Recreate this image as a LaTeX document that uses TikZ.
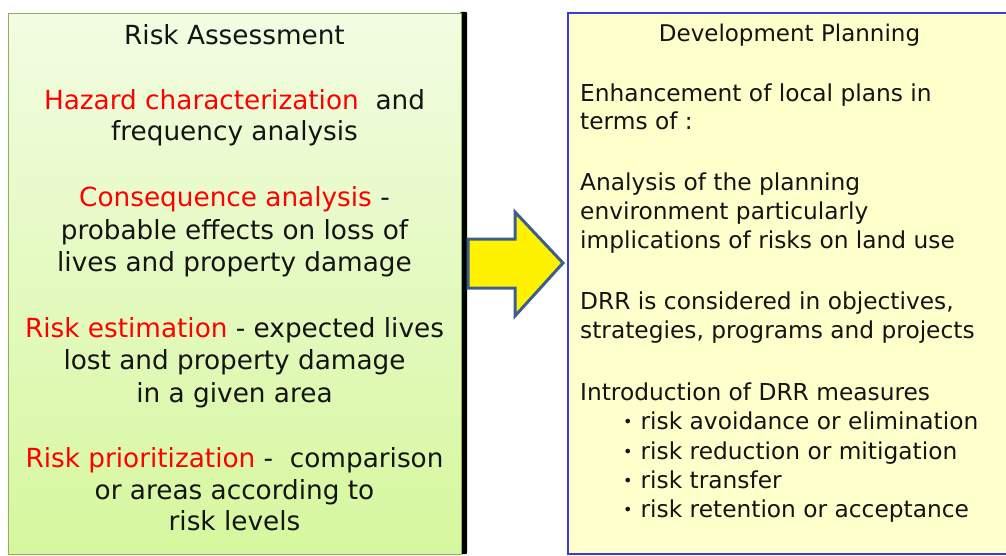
\documentclass[tikz,border=0pt]{standalone}
\usepackage{fontspec}
\setmainfont{DejaVu Sans}
\usetikzlibrary{positioning}
\definecolor{lefttop}{RGB}{242,252,226}
\definecolor{leftbot}{RGB}{214,247,158}
\definecolor{leftborder}{RGB}{141,178,85}
\definecolor{rightfill}{RGB}{255,255,204}
\definecolor{rightborder}{RGB}{60,60,210}
\definecolor{arrowborder}{RGB}{60,95,142}
\definecolor{redtext}{RGB}{255,0,0}
\definecolor{bodytext}{RGB}{20,20,20}
\newcommand{\smallbul}{\hspace*{43pt}\raisebox{1.5pt}{\fontsize{16}{16}\selectfont •}\hspace{8pt}}
\begin{document}
\begin{tikzpicture}[x=1pt,y=-1pt,
  ltext/.style={anchor=base,inner sep=0pt,text=bodytext,font=\fontsize{26.3}{32}\selectfont},
  rtext/.style={anchor=base west,inner sep=0pt,text=bodytext,font=\fontsize{23.3}{29}\selectfont},
  rtitle/.style={anchor=base,inner sep=0pt,text=bodytext,font=\fontsize{23}{28}\selectfont}]
\useasboundingbox (0,0) rectangle (1006,556);
% left box
\fill[black,rounded corners=1pt] (460,12) rectangle (467,554);
\shade[top color=lefttop,bottom color=leftbot,draw=leftborder,line width=1pt] (8,14) rectangle (461,554);
% right box
\fill[rightfill,draw=rightborder,line width=1.5pt] (568,13) rectangle (1012,554);
% block arrow
\draw[fill=yellow,draw=arrowborder,line width=3pt,line join=miter]
  (468,239) -- (515,239) -- (515,212) -- (563,263) -- (515,316) -- (515,288) -- (468,288) -- cycle;
% left text
\def\lx{234.5}
\node[ltext] (la) at (\lx,45) {Risk Assessment};
\node[ltext] (lb1) at (\lx,110) {\textcolor{redtext}{Hazard characterization}\ \ and};
\node[ltext] (lb2) at (\lx,141) {frequency analysis};
\node[ltext] (lc1) at (\lx,207) {\textcolor{redtext}{Consequence analysis} -};
\node[ltext] (lc2) at (\lx,239) {probable effects on loss of};
\node[ltext] (lc3) at (\lx,271) {lives and property damage};
\node[ltext] (ld1) at (\lx,337) {\textcolor{redtext}{Risk estimation} - expected lives};
\node[ltext] (ld2) at (\lx,369) {lost and property damage};
\node[ltext] (ld3) at (\lx,402) {in a given area};
\node[ltext] (le1) at (\lx,467) {\textcolor{redtext}{Risk prioritization} -\ \ comparison};
\node[ltext] (le2) at (\lx,499) {or areas according to};
\node[ltext] (le3) at (\lx,530) {risk levels};
% right text
\def\rx{580}
\node[rtitle] (ra) at (789.5,42) {Development Planning};
\node[rtext] (rb1) at (\rx,102) {Enhancement of local plans in};
\node[rtext] (rb2) at (\rx,130) {terms of :};
\node[rtext] (rc1) at (\rx,190) {Analysis of the planning};
\node[rtext] (rc2) at (\rx,219) {environment particularly};
\node[rtext] (rc3) at (\rx,248) {implications of risks on land use};
\node[rtext] (rd1) at (\rx,309) {DRR is considered in objectives,};
\node[rtext] (rd2) at (\rx,338) {strategies, programs and projects};
\node[rtext] (re1) at (\rx,400) {Introduction of DRR measures};
\node[rtext] (re2) at (\rx,429) {\smallbul risk avoidance or elimination};
\node[rtext] (re3) at (\rx,459) {\smallbul risk reduction or mitigation};
\node[rtext] (re4) at (\rx,488) {\smallbul risk transfer};
\node[rtext] (re5) at (\rx,517) {\smallbul risk retention or acceptance};
\end{tikzpicture}
\end{document}
